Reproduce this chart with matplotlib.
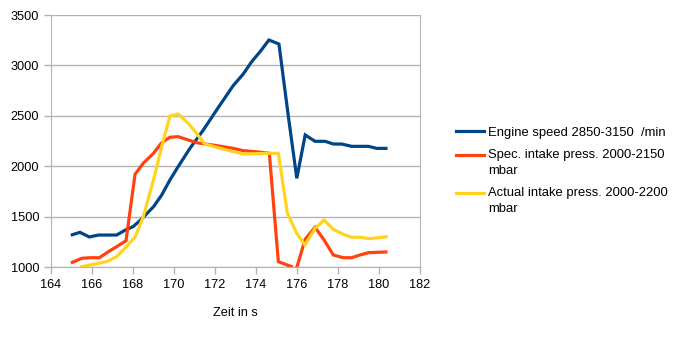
import matplotlib
matplotlib.use("Agg")
import matplotlib.pyplot as plt
from matplotlib.legend_handler import HandlerLine2D

plt.rcParams['font.family'] = ['Liberation Sans', 'DejaVu Sans']

# Engine speed
t_speed = [165.04, 165.41, 165.87, 166.31, 167.2, 167.66, 168.0, 168.34, 169.0, 169.4, 169.8,
           170.2, 170.78, 171.43, 172.08, 172.89, 173.38, 173.79, 174.2, 174.63, 175.12,
           175.58, 175.99, 176.4, 176.88, 177.37, 177.77, 178.18, 178.67, 179.48, 179.89, 180.34]
speed = [1320, 1344, 1298, 1317, 1317, 1370, 1400, 1460, 1598, 1714, 1863,
         1995, 2178, 2359, 2558, 2800, 2915, 3037, 3136, 3252, 3212,
         2491, 1880, 2310, 2247, 2247, 2220, 2220, 2197, 2197, 2177, 2177]

# Spec. intake pressure
t_spec = [165.04, 165.5, 165.9, 166.36, 166.8, 167.2, 167.66, 168.1, 168.5, 169.0, 169.4,
          169.8, 170.2, 170.7, 171.1, 172.08, 172.89, 173.38, 174.11, 174.65, 175.09,
          175.74, 175.87, 176.0, 176.4, 176.88, 177.32, 177.77, 178.26, 178.67, 179.07,
          179.48, 180.34]
spec = [1046, 1086, 1092, 1092, 1152, 1201, 1261, 1920, 2029, 2128, 2233,
        2287, 2293, 2260, 2233, 2204, 2177, 2154, 2141, 2128, 1053,
        1003, 900, 1003, 1275, 1394, 1268, 1119, 1092, 1092, 1119,
        1142, 1149]

# Actual intake pressure
t_act = [165.5, 166.72, 167.2, 167.6, 168.1, 168.5, 169.0, 169.4, 169.8, 170.2, 170.7,
         171.1, 171.5, 172.24, 172.89, 173.38, 174.68, 175.09, 175.53, 175.99, 176.39,
         176.88, 177.32, 177.77, 178.26, 178.67, 179.07, 179.56, 180.34]
act = [1003, 1053, 1102, 1185, 1295, 1499, 1863, 2193, 2498, 2518, 2425,
       2326, 2220, 2178, 2144, 2121, 2128, 2128, 1533, 1334, 1218,
       1384, 1466, 1373, 1324, 1295, 1295, 1281, 1300]

labels = ["Engine speed 2850-3150  /min",
          "Spec. intake press. 2000-2150\nmbar",
          "Actual intake press. 2000-2200\nmbar"]
colors = ["#004586", "#ff420e", "#ffd320"]
x_ticks = list(range(164, 183, 2))
y_ticks = list(range(1000, 3501, 500))


class TopLine(HandlerLine2D):
    def __init__(self, shift, **kw):
        super().__init__(**kw)
        self.shift = shift

    def create_artists(self, legend, orig_handle, xdescent, ydescent, width, height,
                       fontsize, trans):
        return super().create_artists(legend, orig_handle, xdescent, ydescent - 2 * self.shift,
                                      width, height, fontsize, trans)


fig = plt.figure(figsize=(6.79, 3.40), dpi=100)
ax = fig.add_axes([51/679, 1 - 267/340, (420-51)/679, (267-15)/340])

lines = []
for t, v, lab, c in zip([t_speed, t_spec, t_act], [speed, spec, act], labels, colors):
    ln, = ax.plot(t, v, color=c, lw=2.3, label=lab, solid_joinstyle='miter')
    lines.append(ln)

ax.set_xlim(164, 182)
ax.set_ylim(1000, 3500)
ax.set_xticks(x_ticks)
ax.set_yticks(y_ticks)
ax.grid(axis='y', color='#b3b3b3', lw=1)
ax.set_axisbelow(True)
for s in ['left', 'bottom', 'right']:
    ax.spines[s].set_color('#b3b3b3')
ax.spines['top'].set_visible(False)
ax.tick_params(axis='both', colors='#b3b3b3', labelcolor='black', labelsize=9.2, length=5, width=1)
ax.set_xlabel("Zeit in s", fontsize=9.2, labelpad=11.5)

hmap = {lines[1]: TopLine(6.0), lines[2]: TopLine(6.0)}
leg = fig.legend(handles=lines, loc='upper left', bbox_to_anchor=(444/679, 1 - 115/340),
                 frameon=False, fontsize=9.4, handlelength=2.2, labelspacing=0.8,
                 handletextpad=0.3, handler_map=hmap)
for txt in leg.get_texts():
    txt.set_linespacing(1.4)

fig.savefig("out.png", dpi=100)
